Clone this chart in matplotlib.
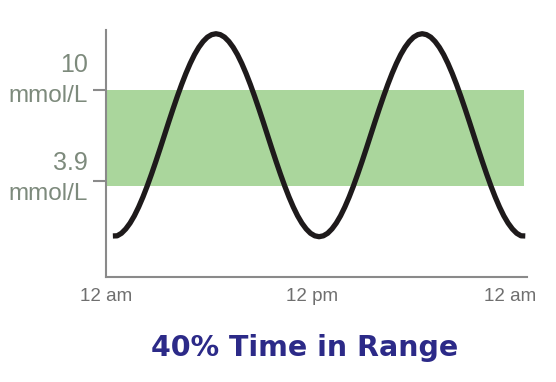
import numpy as np
import matplotlib
matplotlib.use("Agg")
import matplotlib.pyplot as plt

# Glucose trace (hours since midnight), every quarter hour
hours = [i * 0.25 for i in range(97)]
first_half_day = [0.25, 0.26, 0.43, 0.72, 1.11, 1.60, 2.19, 2.86, 3.60, 4.40, 5.24, 6.11,
                  7.00, 7.89, 8.76, 9.60, 10.40, 11.14, 11.81, 12.40, 12.89, 13.28, 13.57, 13.74,
                  13.80, 13.74, 13.57, 13.28, 12.89, 12.40, 11.81, 11.14, 10.40, 9.60, 8.76, 7.89,
                  7.00, 6.11, 5.24, 4.40, 3.60, 2.86, 2.19, 1.60, 1.11, 0.72, 0.43, 0.26]
second_half_day = [0.20, 0.26, 0.43, 0.72, 1.11, 1.60, 2.19, 2.86, 3.60, 4.40, 5.24, 6.11,
                   7.00, 7.89, 8.76, 9.60, 10.40, 11.14, 11.81, 12.40, 12.89, 13.28, 13.57, 13.74,
                   13.80, 13.74, 13.57, 13.28, 12.89, 12.40, 11.81, 11.14, 10.40, 9.60, 8.76, 7.89,
                   7.00, 6.11, 5.24, 4.40, 3.60, 2.86, 2.19, 1.60, 1.11, 0.72, 0.43, 0.26, 0.25]
glucose = first_half_day + second_half_day
range_low = 3.6
range_high = 10.0
ytick_values = [10.0, 3.9]
ytick_numbers = ["10", "3.9"]
unit_label = "mmol/L"
xtick_positions = [-0.4, 11.6, 23.1]
xtick_labels = ["12 am", "12 pm", "12 am"]
title = "40% Time in Range"

W, H = 556, 382
fig = plt.figure(figsize=(W / 100, H / 100), dpi=100)
ax = fig.add_axes([106 / W, 1 - 277 / H, (527 - 106) / W, (277 - 30) / H])

narrow = ["Liberation Sans Narrow", "Liberation Sans", "DejaVu Sans"]
grey = "#8a8a8a"

ax.axhspan(range_low, range_high, xmin=0, xmax=(524 - 106) / (527 - 106),
           color="#aad69c", lw=0, zorder=1)
ax.plot(hours, glucose, color="#1e1a1b", lw=3.8, solid_capstyle="butt",
        solid_joinstyle="round", zorder=3)

ax.set_xlim(-0.1, 24.1)
ax.set_ylim(-2.5, 14.05)

for s in ["top", "right"]:
    ax.spines[s].set_visible(False)
for s in ["left", "bottom"]:
    ax.spines[s].set_color(grey)
    ax.spines[s].set_linewidth(1.5)

ax.set_yticks(ytick_values)
ax.set_yticklabels([])
ax.tick_params(axis="y", length=9.5, width=1.5, color=grey)

ax.set_xticks(xtick_positions)
ax.set_xticklabels(xtick_labels, family=narrow, fontsize=13.5, color="#6f6f6f")
ax.tick_params(axis="x", length=0, pad=8)

# y-axis labels (number over unit), right aligned left of the ticks
label_color = "#7d8a7c"
baselines = [(72, 102), (170, 200)]
for (b1, b2), num in zip(baselines, ytick_numbers):
    fig.text(88 / W, 1 - b1 / H, num, ha="right", va="baseline",
             family=narrow, fontsize=18, color=label_color)
    fig.text(88 / W, 1 - b2 / H, unit_label, ha="right", va="baseline",
             family=narrow, fontsize=17.5, color=label_color)

fig.text(305 / W, 1 - 356 / H, title, ha="center", va="baseline",
         family=["DejaVu Sans"], fontweight="bold", fontsize=20.5,
         color="#2c2a88")

fig.savefig("out.png", dpi=100)
